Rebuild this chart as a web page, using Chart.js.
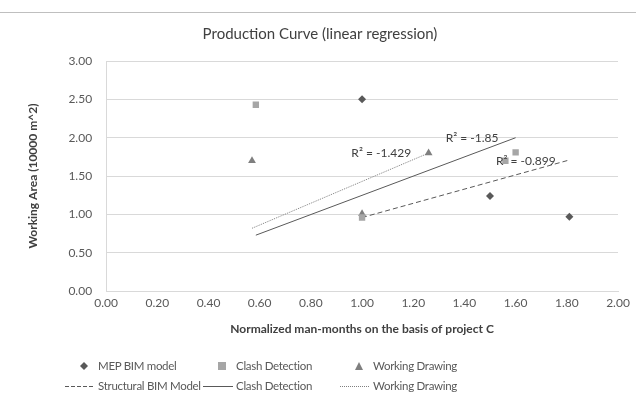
<!DOCTYPE html>
<html lang="en">
<head>
  <meta charset="UTF-8" />
  <title>Production Curve (linear regression)</title>
  <script src="https://cdn.jsdelivr.net/npm/chart.js"></script>
  <style>
    body { margin: 0; background: #fff; font-family: Lato, "Open Sans", sans-serif; }
    #wrap { position: relative; width: 636px; height: 401px; }
    #topline { position: absolute; left: 0; top: 12px; width: 636px; height: 1px; background: #bfbfbf; }
    #legend { position: absolute; left: 0; top: 356px; width: 636px; font-size: 11.5px; letter-spacing: -0.3px; color: #595959; }
    .item { position: absolute; height: 20px; line-height: 20px; white-space: nowrap; }
    .item svg { position: absolute; top: 0; }
  </style>
</head>
<body>
  <div id="wrap">
    <canvas id="chart" width="636" height="401"></canvas>
    <div id="topline"></div>
    <div id="legend"></div>
  </div>
  <script>
    // scatter series
    const mepX = [1.00, 1.50, 1.81];
    const mepY = [2.50, 1.24, 0.97];
    const clashX = [0.585, 1.00, 1.60, 1.56];
    const clashY = [2.43, 0.96, 1.81, 1.70];
    const drawX = [0.57, 1.00, 1.26];
    const drawY = [1.70, 1.01, 1.80];

    // trendline end points
    const structTrendX = [1.00, 1.81];
    const structTrendY = [0.96, 1.71];
    const clashTrendX = [0.585, 1.60];
    const clashTrendY = [0.73, 2.00];
    const drawTrendX = [0.57, 1.26];
    const drawTrendY = [0.82, 1.80];

    // R² labels
    const r2Text = ['R\u00b2 = -1.429', 'R\u00b2 = -1.85', 'R\u00b2 = -0.899'];
    const r2X = [1.075, 1.43, 1.64];
    const r2Y = [1.80, 1.99, 1.70];

    const xTicks = [0, 0.2, 0.4, 0.6, 0.8, 1.0, 1.2, 1.4, 1.6, 1.8, 2.0];
    const yTicks = [0, 0.5, 1.0, 1.5, 2.0, 2.5, 3.0];

    const pts = (xs, ys) => xs.map((x, i) => ({ x: x, y: ys[i] }));

    const FONT = 'Lato, "Open Sans", sans-serif';

    const r2Labels = {
      id: 'r2Labels',
      afterDatasetsDraw(chart) {
        const c = chart.ctx, sx = chart.scales.x, sy = chart.scales.y;
        c.save();
        c.font = '12px ' + FONT;
        c.fillStyle = '#404040';
        c.textAlign = 'center';
        c.textBaseline = 'middle';
        r2Text.forEach((t, i) => c.fillText(t, sx.getPixelForValue(r2X[i]), sy.getPixelForValue(r2Y[i])));
        c.restore();
      }
    };

    const chart = new Chart(document.getElementById('chart'), {
      type: 'scatter',
      data: {
        datasets: [
          { label: 'MEP BIM model', data: pts(mepX, mepY), pointStyle: 'rectRot', pointRadius: 4,
            backgroundColor: '#595959', borderColor: '#595959', borderWidth: 0 },
          { label: 'Clash Detection', data: pts(clashX, clashY), pointStyle: 'rect', pointRadius: 4.5,
            backgroundColor: '#a6a6a6', borderColor: '#a6a6a6', borderWidth: 0 },
          { label: 'Working Drawing', data: pts(drawX, drawY), pointStyle: 'triangle', pointRadius: 4.5,
            backgroundColor: '#7f7f7f', borderColor: '#7f7f7f', borderWidth: 0 },
          { label: 'Structural BIM Model', data: pts(structTrendX, structTrendY), showLine: true, pointRadius: 0,
            borderColor: '#595959', borderWidth: 1, borderDash: [5, 3] },
          { label: 'Clash Detection', data: pts(clashTrendX, clashTrendY), showLine: true, pointRadius: 0,
            borderColor: '#595959', borderWidth: 1 },
          { label: 'Working Drawing', data: pts(drawTrendX, drawTrendY), showLine: true, pointRadius: 0,
            borderColor: '#7f7f7f', borderWidth: 1, borderDash: [1, 1] }
        ]
      },
      options: {
        responsive: false,
        animation: false,
        layout: { padding: { top: 18, left: 22, right: 18, bottom: 61 } },
        plugins: {
          legend: { display: false },
          tooltip: { enabled: false },
          title: {
            display: true, text: 'Production Curve (linear regression)', color: '#404040',
            font: { family: FONT, size: 15, weight: 'normal' }, padding: { top: 7, bottom: 18 }
          }
        },
        scales: {
          x: {
            type: 'linear', min: 0, max: 2,
            afterBuildTicks: s => { s.ticks = xTicks.map(v => ({ value: v })); },
            grid: { display: false, drawTicks: false },
            border: { color: '#d9d9d9' },
            ticks: { color: '#595959', font: { family: FONT, size: 12 }, padding: 5, callback: v => v.toFixed(2) },
            title: { display: true, text: 'Normalized man-months on the basis of project C', color: '#404040',
                     font: { family: FONT, size: 12, weight: 'bold' }, padding: { top: 6 } }
          },
          y: {
            type: 'linear', min: 0, max: 3,
            afterBuildTicks: s => { s.ticks = yTicks.map(v => ({ value: v })); },
            grid: { color: '#d9d9d9', drawTicks: false },
            border: { color: '#d9d9d9' },
            ticks: { color: '#595959', font: { family: FONT, size: 12 }, padding: 14, callback: v => v.toFixed(2) },
            title: { display: true, text: 'Working Area (10000 m^2)', color: '#404040',
                     font: { family: FONT, size: 12, weight: 'bold' }, padding: { bottom: 14 } }
          }
        }
      },
      plugins: [r2Labels]
    });

    // legend in Excel's 3 x 2 grid
    const legendText = ['MEP BIM model', 'Clash Detection', 'Working Drawing',
                        'Structural BIM Model', 'Clash Detection', 'Working Drawing'];
    const legendIcon = [
      '<svg width="10" height="20"><path d="M5 6 L9 10 L5 14 L1 10 Z" fill="#595959"/></svg>',
      '<svg width="10" height="20"><rect x="1" y="6" width="8" height="8" fill="#a6a6a6"/></svg>',
      '<svg width="10" height="20"><path d="M5 6 L9 14 L1 14 Z" fill="#7f7f7f"/></svg>',
      '<svg width="30" height="20"><line x1="0" y1="10.5" x2="30" y2="10.5" stroke="#595959" stroke-dasharray="4,2"/></svg>',
      '<svg width="30" height="20"><line x1="0" y1="10.5" x2="30" y2="10.5" stroke="#595959"/></svg>',
      '<svg width="30" height="20"><line x1="0" y1="10.5" x2="30" y2="10.5" stroke="#7f7f7f" stroke-dasharray="1,1"/></svg>'
    ];
    const colText = [98, 236, 373];
    const leg = document.getElementById('legend');
    legendText.forEach((t, i) => {
      const row = Math.floor(i / 3), col = i % 3;
      const d = document.createElement('div');
      d.className = 'item';
      d.style.left = colText[col] + 'px';
      d.style.top = (row * 20) + 'px';
      const iconLeft = row === 0 ? -19 : -33;
      d.innerHTML = legendIcon[i].replace('<svg', '<svg style="left:' + iconLeft + 'px"') + t;
      leg.appendChild(d);
    });
  </script>
</body>
</html>
